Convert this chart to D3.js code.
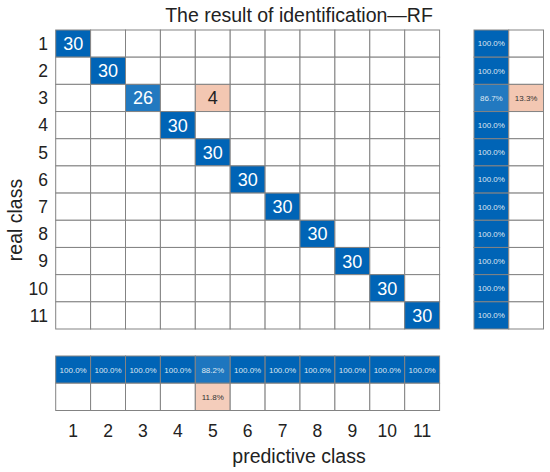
<!DOCTYPE html>
<html>
<head>
<meta charset="utf-8">
<script src="https://cdn.jsdelivr.net/npm/d3@7"></script>
<style>
  body { margin: 0; background: #fff; }
  text { font-family: "Liberation Sans", Arial, sans-serif; }
</style>
</head>
<body>
<div id="chart"></div>
<script>
// Class labels
const classes = ["1", "2", "3", "4", "5", "6", "7", "8", "9", "10", "11"];

// Confusion matrix counts: [real class, predictive class, count]
const cells = [
  ["1", "1", 30],
  ["2", "2", 30],
  ["3", "3", 26],
  ["3", "5", 4],
  ["4", "4", 30],
  ["5", "5", 30],
  ["6", "6", 30],
  ["7", "7", 30],
  ["8", "8", 30],
  ["9", "9", 30],
  ["10", "10", 30],
  ["11", "11", 30]
];

const width = 550;
const height = 472;

const svg = d3
  .select("#chart")
  .append("svg")
  .attr("width", width)
  .attr("height", height);

// Scales for the main grid
const xScale = d3.scaleBand().domain(classes).range([55.7, 439.6]);
const yScale = d3.scaleBand().domain(classes).range([30, 329]);

// Right summary panel (row-wise) and bottom summary panel (column-wise)
const sideCols = ["correct", "wrong"];
const xSide = d3.scaleBand().domain(sideCols).range([474, 543.5]);
const yBottom = d3.scaleBand().domain(sideCols).range([356, 410.5]);

const blue = d3.scaleLinear().domain([0, 1]).range(["#ffffff", "#0064b6"]);
const peach = d3
  .scaleLinear()
  .domain([0, 0.14])
  .range(["#ffffff", "#f2c4ae"])
  .clamp(true);
const maxCount = d3.max(cells, (d) => d[2]);

const lookup = new Map(cells.map((d) => [d[0] + "|" + d[1], d[2]]));
const count = (r, p) => lookup.get(r + "|" + p) || 0;

// Row and column totals for the summaries
const rowTotal = (r) => d3.sum(classes, (p) => count(r, p));
const colTotal = (p) => d3.sum(classes, (r) => count(r, p));

const gridColor = "#838383";

// Main grid background cells
const grid = [];
classes.forEach((r) => classes.forEach((p) => grid.push([r, p, count(r, p)])));

svg
  .append("g")
  .selectAll("rect")
  .data(grid)
  .enter()
  .append("rect")
  .attr("x", (d) => xScale(d[1]))
  .attr("y", (d) => yScale(d[0]))
  .attr("width", xScale.bandwidth())
  .attr("height", yScale.bandwidth())
  .style("fill", (d) => {
    if (d[2] === 0) return "#fff";
    return d[0] === d[1] ? blue(d[2] / maxCount) : peach(d[2] / maxCount);
  })
  .style("stroke", gridColor)
  .style("stroke-width", 1);

svg
  .append("g")
  .selectAll("text")
  .data(cells)
  .enter()
  .append("text")
  .attr("x", (d) => xScale(d[1]) + xScale.bandwidth() / 2)
  .attr("y", (d) => yScale(d[0]) + yScale.bandwidth() / 2)
  .attr("dy", "0.36em")
  .attr("text-anchor", "middle")
  .style("font-size", "18px")
  .style("fill", (d) => (d[0] === d[1] ? "#fff" : "#222"))
  .text((d) => d[2]);

// Right panel: per-row recall
const rowSummary = [];
classes.forEach((r) => {
  const ok = count(r, r) / rowTotal(r);
  rowSummary.push([r, "correct", ok]);
  rowSummary.push([r, "wrong", 1 - ok]);
});

const side = svg.append("g");
side
  .selectAll("rect")
  .data(rowSummary)
  .enter()
  .append("rect")
  .attr("x", (d) => xSide(d[1]))
  .attr("y", (d) => yScale(d[0]))
  .attr("width", xSide.bandwidth())
  .attr("height", yScale.bandwidth())
  .style("fill", (d) => {
    if (d[2] < 1e-9) return "#fff";
    return d[1] === "correct" ? blue(d[2]) : peach(d[2]);
  })
  .style("stroke", gridColor);

side
  .selectAll("text")
  .data(rowSummary.filter((d) => d[2] > 1e-9))
  .enter()
  .append("text")
  .attr("x", (d) => xSide(d[1]) + xSide.bandwidth() / 2)
  .attr("y", (d) => yScale(d[0]) + yScale.bandwidth() / 2)
  .attr("dy", "0.36em")
  .attr("text-anchor", "middle")
  .style("font-size", "8px")
  .style("fill", (d) => (d[1] === "correct" ? "#dde6f0" : "#333"))
  .text((d) => (d[2] * 100).toFixed(1) + "%");

// Bottom panel: per-column precision
const colSummary = [];
classes.forEach((p) => {
  const ok = count(p, p) / colTotal(p);
  colSummary.push([p, "correct", ok]);
  colSummary.push([p, "wrong", 1 - ok]);
});

const bottom = svg.append("g");
bottom
  .selectAll("rect")
  .data(colSummary)
  .enter()
  .append("rect")
  .attr("x", (d) => xScale(d[0]))
  .attr("y", (d) => yBottom(d[1]))
  .attr("width", xScale.bandwidth())
  .attr("height", yBottom.bandwidth())
  .style("fill", (d) => {
    if (d[2] < 1e-9) return "#fff";
    return d[1] === "correct" ? blue(d[2]) : peach(d[2]);
  })
  .style("stroke", gridColor);

bottom
  .selectAll("text")
  .data(colSummary.filter((d) => d[2] > 1e-9))
  .enter()
  .append("text")
  .attr("x", (d) => xScale(d[0]) + xScale.bandwidth() / 2)
  .attr("y", (d) => yBottom(d[1]) + yBottom.bandwidth() / 2)
  .attr("dy", "0.36em")
  .attr("text-anchor", "middle")
  .style("font-size", "8px")
  .style("fill", (d) => (d[1] === "correct" ? "#dde6f0" : "#333"))
  .text((d) => (d[2] * 100).toFixed(1) + "%");

// Y tick labels
svg
  .append("g")
  .selectAll("text")
  .data(classes)
  .enter()
  .append("text")
  .attr("x", 48)
  .attr("y", (d) => yScale(d) + yScale.bandwidth() / 2)
  .attr("dy", "0.36em")
  .attr("text-anchor", "end")
  .style("font-size", "17.5px")
  .style("fill", "#222")
  .text((d) => d);

// X tick labels
svg
  .append("g")
  .selectAll("text")
  .data(classes)
  .enter()
  .append("text")
  .attr("x", (d) => xScale(d) + xScale.bandwidth() / 2)
  .attr("y", 437)
  .attr("text-anchor", "middle")
  .style("font-size", "17.5px")
  .style("fill", "#222")
  .text((d) => d);

// Title and axis labels
svg
  .append("text")
  .attr("x", 299)
  .attr("y", 22)
  .attr("text-anchor", "middle")
  .style("font-size", "19.5px")
  .style("fill", "#222")
  .text("The result of identification\u2014RF");

svg
  .append("text")
  .attr("x", 299)
  .attr("y", 463)
  .attr("text-anchor", "middle")
  .style("font-size", "19.5px")
  .style("fill", "#222")
  .text("predictive class");

svg
  .append("text")
  .attr("transform", "translate(22, 220) rotate(-90)")
  .attr("text-anchor", "middle")
  .style("font-size", "19.5px")
  .style("fill", "#222")
  .text("real class");
</script>
</body>
</html>
